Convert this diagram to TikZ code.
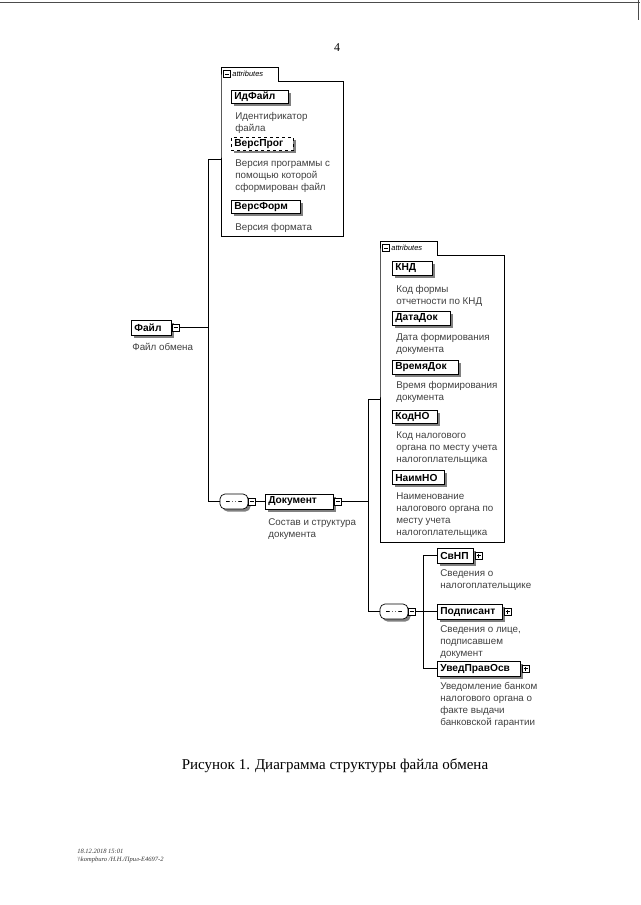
\documentclass[tikz,border=0pt]{standalone}
\usepackage{fontspec}
\setmainfont{Liberation Serif}
\setsansfont{Liberation Sans}
\usetikzlibrary{positioning, shadows}

\tikzset{
  Elem/.style = {rectangle, draw = black, fill = white, anchor = west,
    font = \sffamily\bfseries\fontsize{10.2}{11}\selectfont,
    inner xsep = 3pt, inner ysep = 0pt, minimum height = 15pt, text width = #1,
    general shadow = {fill = black!50, shadow xshift = 2.5pt, shadow yshift = -2.5pt}},
  Attr/.style = {Elem = #1, minimum height = 13.5pt},
  OptAttr/.style = {Attr = #1, dashed},
  Desc/.style = {font = \sffamily\fontsize{9.8}{12}\selectfont, text = black!75, align = left, inner sep = 0pt},
  Tab/.style = {inner xsep = 2pt, inner ysep = 0pt, minimum height = 13pt, text width = 53pt,
    font = \sffamily\itshape\fontsize{7.5}{8}\selectfont},
  Btn/.style = {rectangle, draw, fill = white, minimum size = 7pt, inner sep = 0pt,
    path picture = {\draw ([xshift=1.5pt]path picture bounding box.west) -- ([xshift=-1.5pt]path picture bounding box.east);}},
  BtnPlus/.style = {rectangle, draw, fill = white, minimum size = 7pt, inner sep = 0pt,
    path picture = {\draw ([xshift=1.5pt]path picture bounding box.west) -- ([xshift=-1.5pt]path picture bounding box.east);
      \draw ([yshift=-1.5pt]path picture bounding box.north) -- ([yshift=1.5pt]path picture bounding box.south);}},
  Seq/.style = {rectangle, rounded corners = 5pt, draw, fill = white,
    minimum width = 28pt, minimum height = 15pt, inner sep = 0pt,
    general shadow = {fill = black!50, shadow xshift = 2.5pt, shadow yshift = -2.5pt},
    path picture = {\draw [line width = 0.8pt] ([xshift=6pt]path picture bounding box.west) -- ([xshift=-6pt]path picture bounding box.east);
      \foreach \d in {-3,0,3} \fill ([xshift=\d pt]path picture bounding box.center) circle (1.3pt);}},
  Footer/.style = {font = \itshape\fontsize{6.5}{7}\selectfont, text = black!80, anchor = west, inner sep = 0pt}
}

\begin{document}
\begin{tikzpicture}[x = 1pt, y = -1pt, line width = 0.7pt]
    \useasboundingbox (0,0) rectangle (640,905);
    % scan edge
    \draw [black!70, line width = 1pt] (0,2) -- (640,2);
    \draw [black!70, line width = 1pt] (638,0) -- (638,20);

    \node [font = \fontsize{12}{14}\selectfont] (pagenum) at (337,48) {4};

    % attributes of Файл
    \node [inner sep = 0pt, minimum width = 122pt, minimum height = 155pt, anchor = north west] (attrFile) at (221,81) {};
    \node [Tab, anchor = south west] (tabFile) at (attrFile.north west) {\hspace*{9pt}attributes};
    \draw (tabFile.south west) |- (tabFile.north east) |- (attrFile.north east) |- (attrFile.south west) -- cycle;
    \node [Btn, right = 2pt of tabFile.west] (tabFileBtn) {};

    \node [Attr = 51pt] (idFile) at (231,97) {ИдФайл};
    \node [Desc, below right = 6.5pt and 4pt of idFile.south west] (idFileDesc) {\strut Идентификатор\\файла};
    \node [OptAttr = 56pt] (verProg) at (231,144) {ВерсПрог};
    \node [Desc, below right = 7pt and 4pt of verProg.south west] (verProgDesc) {\strut Версия программы  с\\помощью которой\\сформирован файл};
    \node [Attr = 63pt] (verForm) at (231,207) {ВерсФорм};
    \node [Desc, below right = 7.5pt and 4pt of verForm.south west] (verFormDesc) {\strut Версия формата};

    % root
    \node [Elem = 34pt] (file) at (131,327.5) {Файл};
    \node [Btn, right = 0pt of file] (fileBtn) {};
    \node [Desc, below right = 6.5pt and 1pt of file.south west] (fileDesc) {\strut Файл обмена};

    \node [Seq] (seqDoc) at (234,501.5) {};
    \node [Btn, right = 0pt of seqDoc] (seqDocBtn) {};
    \node [Elem = 62pt] (doc) at (265,501.5) {Документ};
    \node [Btn, right = 0pt of doc] (docBtn) {};
    \node [Desc, below right = 7.5pt and 3pt of doc.south west] (docDesc) {\strut Состав и структура\\документа};

    % attributes of Документ
    \node [inner sep = 0pt, minimum width = 124pt, minimum height = 287pt, anchor = north west] (attrDoc) at (380,255) {};
    \node [Tab, anchor = south west] (tabDoc) at (attrDoc.north west) {\hspace*{9pt}attributes};
    \draw (tabDoc.south west) |- (tabDoc.north east) |- (attrDoc.north east) |- (attrDoc.south west) -- cycle;
    \node [Btn, right = 2pt of tabDoc.west] (tabDocBtn) {};

    \node [Attr = 34pt] (knd) at (392,268.5) {КНД};
    \node [Desc, below right = 8pt and 4pt of knd.south west] (kndDesc) {\strut Код формы\\отчетности по КНД};
    \node [Attr = 52pt] (dataDok) at (392,318.5) {ДатаДок};
    \node [Desc, below right = 6.5pt and 4pt of dataDok.south west] (dataDokDesc) {\strut Дата формирования\\документа};
    \node [Attr = 60pt] (vremDok) at (392,367.5) {ВремяДок};
    \node [Desc, below right = 5.5pt and 4pt of vremDok.south west] (vremDokDesc) {\strut Время формирования\\документа};
    \node [Attr = 39pt] (kodNO) at (392,417) {КодНО};
    \node [Desc, below right = 5.5pt and 4pt of kodNO.south west] (kodNODesc) {\strut Код налогового\\органа по месту  учета\\налогоплательщика};
    \node [Attr = 46pt] (naimNO) at (392,477.5) {НаимНО};
    \node [Desc, below right = 6.5pt and 4pt of naimNO.south west] (naimNODesc) {\strut Наименование\\налогового органа по\\месту  учета\\налогоплательщика};

    % children of Документ
    \node [Seq] (seqKids) at (394,611.5) {};
    \node [Btn, right = 0pt of seqKids] (seqKidsBtn) {};
    \node [Elem = 30pt] (svnp) at (437,555.5) {СвНП};
    \node [BtnPlus, right = 1pt of svnp] (svnpBtn) {};
    \node [Desc, below right = 4pt and 3pt of svnp.south west] (svnpDesc) {\strut Сведения о\\налогоплательщике};
    \node [Elem = 59pt] (podp) at (437,611.5) {Подписант};
    \node [BtnPlus, right = 1pt of podp] (podpBtn) {};
    \node [Desc, below right = 4.5pt and 3pt of podp.south west] (podpDesc) {\strut Сведения о лице,\\подписавшем\\документ};
    \node [Elem = 77pt] (uved) at (437,668.5) {УведПравОсв};
    \node [BtnPlus, right = 1pt of uved] (uvedBtn) {};
    \node [Desc, below right = 4.5pt and 3pt of uved.south west] (uvedDesc) {\strut Уведомление банком\\налогового органа о\\факте выдачи\\банковской гарантии};

    % connectors
    \coordinate (busFile) at (208,0);
    \coordinate (busDoc) at (368,0);
    \coordinate (busKids) at (423,0);
    \draw (fileBtn) -- (fileBtn -| busFile);
    \draw (attrFile.west) -- (attrFile.west -| busFile) |- (seqDoc.west);
    \draw (seqDocBtn) -- (doc);
    \draw (docBtn) -- (docBtn -| busDoc);
    \draw (attrDoc.west) -- (attrDoc.west -| busDoc) |- (seqKids.west);
    \draw (seqKidsBtn) -- (seqKidsBtn -| busKids);
    \draw (svnp.west) -- (svnp.west -| busKids) |- (uved.west);
    \draw (podp.west) -- (podp.west -| busKids);

    \node [font = \fontsize{15}{17}\selectfont] (caption) at (335,766) {Рисунок 1. Диаграмма структуры файла обмена};

    \node [Footer] (stamp) at (77,851) {18.12.2018 15:01};
    \node [Footer] (stampPath) at (77,860) {\textbackslash\textbackslash kompburo /Н.Н./Прил-Е4697-2};
\end{tikzpicture}
\end{document}
